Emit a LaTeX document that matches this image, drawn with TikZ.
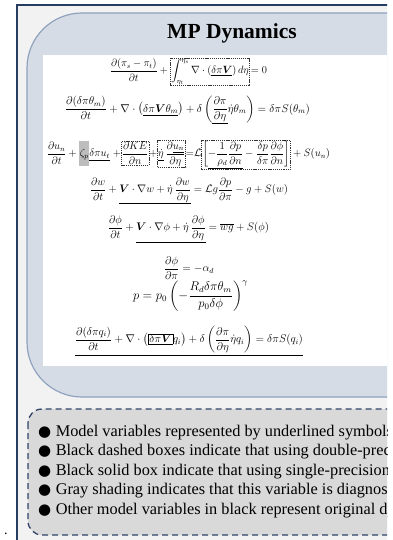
\documentclass[tikz,border=0pt]{standalone}
\usepackage{amsmath,amssymb,bm}
\usepackage{graphicx}
\usepackage{fontspec}
\setmainfont{Liberation Serif}
\newfontfamily\symfont{DejaVu Sans}
\definecolor{outerline}{HTML}{263C60}
\definecolor{outerfill}{HTML}{F2F2F2}
\definecolor{panelfill}{HTML}{D6DCE5}
\definecolor{panelline}{HTML}{8FA3BF}
\definecolor{notefill}{HTML}{D9D9D9}
\definecolor{noteline}{HTML}{2F4468}
\definecolor{shade}{HTML}{BDBDBD}
\setlength{\fboxsep}{1pt}
\tikzset{
  dbox/.style={draw=black!80, dash pattern=on 1.4pt off 1pt, line width=0.45pt, inner xsep=0.7pt, inner ysep=1pt, fill=none, anchor=base},
  eqn/.style={font=\fontsize{12}{14}\selectfont, inner sep=0pt},
  bul/.style={font=\fontsize{16.3}{18}\selectfont, anchor=base west, inner sep=0pt},
}
\newcommand{\dbx}[2]{\tikz[baseline=(#1.base)]\node[dbox](#1){$\displaystyle #2$};}
\newcommand{\shd}[2]{\tikz[baseline=(#1.base)]\node[fill=shade, draw=none, inner xsep=0.6pt, inner ysep=0pt, text height=18pt, text depth=10pt, anchor=base](#1){$#2$};}
\newcommand{\eqw}[2]{\resizebox{#1pt}{!}{$\displaystyle #2$}}
\newcommand{\bmark}{{\symfont\fontsize{15}{16}\selectfont ●}\hspace{4.5pt}}
\begin{document}
\begin{tikzpicture}[x=1pt,y=-1pt]
\useasboundingbox (0,0) rectangle (392,540);
\begin{scope}
\clip (0,0) rectangle (387,540);
% outer frame
\path[fill=outerfill, draw=outerline, line width=2pt] (17,5) rectangle (420,560);
% panel
\path[fill=panelfill, draw=panelline, line width=1.2pt, rounded corners=55pt] (27,13) rectangle (460,397);
\path[fill=white] (43,55) rectangle (400,366);
% notes box
\path[fill=notefill, draw=noteline, line width=1.3pt, dash pattern=on 6pt off 4pt, rounded corners=14pt] (28,409) rectangle (460,535);
\node[font=\bfseries\fontsize{21.5}{24}\selectfont, inner sep=0pt] (title) at (232,33) {MP Dynamics};
% equations
\node[eqn] (e1) at (188.5,72) {\eqw{157}{\frac{\partial(\pi_s-\pi_t)}{\partial t}+\dbx{b1}{\int_{\eta_t}^{\eta_s}\nabla\cdot\left(\underline{\delta\pi\bm{V}}\right)d\eta}\!= 0}};
\node[eqn] (e2) at (187.5,110) {\eqw{245}{\frac{\partial(\delta\pi\theta_m)}{\partial t}+\nabla\cdot\left(\underline{\delta\pi\bm{V}\theta_m}\right)+\delta\left(\underline{\frac{\partial\pi}{\partial\eta}}\dot\eta\theta_m\right)=\delta\pi S(\theta_m)}};
\node[eqn] (e3) at (188.5,155) {\eqw{283}{\frac{\partial u_n}{\partial t}+\shd{z1}{\zeta_p}\underline{\delta\pi u_t}\;{+}\dbx{b2}{\frac{\partial KE}{\partial n}}{+}\dbx{b3}{\underline{\dot\eta}\,\frac{\partial\underline{u_n}}{\partial\eta}}{=}\mathcal{L}\dbx{b4}{\left[\underline{-\frac{1}{\rho_d}\frac{\partial p}{\partial n}}-\frac{\delta p}{\delta\pi}\frac{\partial\phi}{\partial n}\right]}+S(u_n)}};
\node[eqn] (e4) at (189,191) {\eqw{198}{\frac{\partial w}{\partial t}+\underline{\bm{V}\cdot\nabla w+\dot\eta\,\frac{\partial w}{\partial\eta}}=\mathcal{L}g\frac{\partial p}{\partial\pi}-g+S(w)}};
\node[eqn] (e5) at (188.5,229) {\eqw{161}{\frac{\partial\phi}{\partial t}+\underline{\bm{V}\cdot\nabla\phi+\dot\eta\,\frac{\partial\phi}{\partial\eta}}=\overline{wg}+S(\phi)}};
\node[eqn] (e6) at (189,268) {\eqw{50}{\frac{\partial\phi}{\partial\pi}=-\alpha_d}};
\node[eqn] (e7) at (190.5,296) {\eqw{115}{p=p_0\left(-\frac{R_d\delta\pi\theta_m}{p_0\delta\phi}\right)^{\gamma}}};
\node[eqn] (e8) at (189,341) {\eqw{228}{\underline{\frac{\partial(\delta\pi q_i)}{\partial t}+\nabla\cdot\left(\boxed{\delta\pi\bm{V}}q_i\right)+\delta\left(\frac{\partial\pi}{\partial\eta}\dot\eta q_i\right)=\delta\pi S(q_i)}}};
% notes
\node[bul] (n1) at (38,436) {\bmark Model variables represented by underlined symbols are};
\node[bul] (n2) at (38,455.5) {\bmark Black dashed boxes indicate that using double-precision};
\node[bul] (n3) at (38,475) {\bmark Black solid box indicate that using single-precision};
\node[bul] (n4) at (38,494.5) {\bmark Gray shading indicates that this variable is diagnosed};
\node[bul] (n5) at (38,514) {\bmark Other model variables in black represent original dynamics};
\node[font=\fontsize{14}{16}\selectfont, inner sep=0pt, anchor=base] (dot) at (6,534) {.};
\end{scope}
\end{tikzpicture}
\end{document}
